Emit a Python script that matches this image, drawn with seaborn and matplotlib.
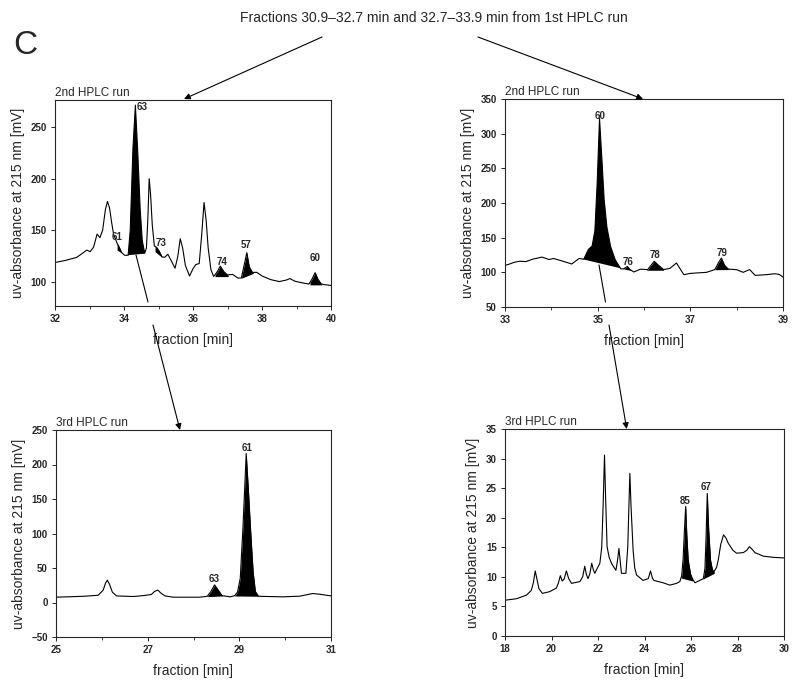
import numpy as np
import pandas as pd
import matplotlib
matplotlib.use("Agg")
import matplotlib.pyplot as plt
import seaborn as sns

# ---------------- data ----------------
# 2nd HPLC run, fraction 30.9-32.7 min
p1_x = [32.0, 32.3, 32.63, 32.8, 32.92, 33.02, 33.12, 33.22, 33.3, 33.38, 33.46, 33.52, 33.58,
        33.64, 33.7, 33.76, 33.8, 33.86, 33.93, 34.02, 34.12, 34.18, 34.26, 34.33, 34.4, 34.47,
        34.53, 34.6, 34.65, 34.69, 34.73, 34.77, 34.82, 34.88, 34.95, 35.02, 35.1, 35.18, 35.27,
        35.35, 35.48, 35.56, 35.63, 35.7, 35.78, 35.9, 36.0, 36.08, 36.18, 36.25, 36.32, 36.38,
        36.44, 36.52, 36.6, 36.7, 36.79, 36.9, 37.0, 37.15, 37.3, 37.4, 37.48, 37.56, 37.63,
        37.72, 37.85, 38.0, 38.25, 38.5, 38.7, 38.81, 38.95, 39.15, 39.36, 39.45, 39.54, 39.62,
        39.72, 39.85, 40.0]
p1_y = [119, 121, 124, 128, 131, 129.5, 134, 146.5, 143, 150, 170, 178, 172,
        158, 146, 141, 137.6, 134, 128.6, 126, 126, 150, 230, 271, 225, 170,
        140, 128, 133, 160, 200, 185, 155, 135, 133.5, 130, 124.5, 124, 127,
        122, 113.5, 125, 142, 133, 116, 106, 113, 117, 118, 145, 177, 160,
        133, 112, 105.5, 110, 115.5, 110, 107, 107.5, 104, 104, 116, 128.5, 115,
        109.5, 109.5, 106, 102.5, 100.6, 102, 103.5, 101, 99.5, 98.2, 103, 109.2, 103,
        98.2, 97.5, 96.8]
p1_peaks = ["61", "63", "73", "74", "57", "60"]
p1_fill = [(33.80, 131.0, 33.92, 128.5), (34.08, 126.0, 34.60, 127.5), (34.90, 129.5, 35.10, 124.0),
           (36.64, 105.4, 37.02, 105.4), (37.41, 103.9, 37.75, 108.6), (39.39, 97.4, 39.73, 97.4)]
p1_lab = [(33.80, 143.5), (34.37, 269.0), (35.07, 137.9), (36.84, 119.6), (37.54, 136.0), (39.54, 123.0)]

# 2nd HPLC run, fraction 32.7-33.9 min
p2_x = [33.0, 33.1, 33.2, 33.32, 33.45, 33.6, 33.8, 33.95, 34.05, 34.15, 34.3, 34.44, 34.6, 34.7,
        34.8, 34.88, 34.94, 34.99, 35.04, 35.09, 35.14, 35.2, 35.28, 35.38, 35.5, 35.56, 35.64,
        35.7, 35.78, 35.92, 36.08, 36.15, 36.22, 36.3, 36.42, 36.56, 36.7, 36.78, 36.86, 37.0,
        37.35, 37.53, 37.6, 37.67, 37.74, 37.82, 38.0, 38.14, 38.28, 38.4, 38.64, 38.82, 38.92, 39.0]
p2_y = [110, 112, 114.5, 116, 115.5, 119, 122, 118.5, 120, 118, 115, 112, 120, 119,
        133, 138, 160, 230, 322, 265, 205, 165, 137, 118, 105, 105, 108.5,
        104, 100.5, 104.5, 104, 110, 116, 111, 104, 105.7, 113.5, 105, 96.6, 98.5,
        100, 104, 113, 120.6, 110, 104.7, 103.8, 100, 104, 95.6, 96.6, 98, 97, 93.2]
p2_peaks = ["60", "76", "78", "79"]
p2_fill = [(34.67, 119.0, 35.57, 104.6), (35.57, 104.6, 35.74, 102.5),
           (36.06, 103.0, 36.42, 103.0), (37.53, 103.8, 37.84, 104.0)]
p2_lab = [(35.05, 326.0), (35.66, 115.3), (36.24, 125.0), (37.68, 128.3)]

# 3rd HPLC run (from peak 63)
p3_x = [25.0, 25.6, 25.92, 26.03, 26.08, 26.12, 26.17, 26.23, 26.32, 26.69, 26.91, 27.08, 27.15,
        27.22, 27.3, 27.38, 27.56, 28.14, 28.3, 28.38, 28.46, 28.54, 28.62, 28.8, 28.9, 28.96,
        29.02, 29.08, 29.15, 29.2, 29.25, 29.3, 29.35, 29.42, 29.96, 30.32, 30.6, 30.75, 31.0]
p3_y = [7.7, 9.0, 10.5, 18, 28, 32.3, 26, 15, 9.5, 8.7, 10, 11.6, 16,
        18, 13, 9.5, 7.7, 7.7, 9, 16, 25.5, 18, 10, 8.2, 10, 15,
        35, 110, 216, 160, 100, 45, 16, 9, 8.2, 9.2, 13, 12, 9.6]
p3_peaks = ["63", "61"]
p3_fill = [(28.31, 8.5, 28.64, 9.5), (28.88, 9.5, 29.42, 9.0)]
p3_lab = [(28.45, 33.6), (29.16, 223.5)]

# 3rd HPLC run (from peak 60)
p4_x = [18.0, 18.49, 18.92, 19.13, 19.22, 19.3, 19.38, 19.46, 19.61, 19.92, 20.21, 20.3, 20.38,
        20.46, 20.54, 20.64, 20.74, 20.86, 21.22, 21.34, 21.43, 21.5, 21.57, 21.65, 21.73, 21.8,
        21.86, 22.08, 22.16, 22.22, 22.28, 22.33, 22.39, 22.48, 22.58, 22.77, 22.84, 22.9, 22.96,
        23.01, 23.2, 23.28, 23.33, 23.37, 23.42, 23.51, 23.58, 23.66, 23.94, 24.16, 24.26, 24.34,
        24.4, 24.8, 25.09, 25.38, 25.52, 25.6, 25.66, 25.72, 25.77, 25.82, 25.88, 25.98, 26.07,
        26.17, 26.38, 26.53, 26.6, 26.65, 26.7, 26.76, 26.84, 26.92, 26.99, 27.1, 27.17, 27.28,
        27.4, 27.5, 27.6, 27.8, 27.96, 28.25, 28.4, 28.51, 28.62, 28.75, 29.11, 29.54, 30.0]
p4_y = [6.05, 6.3, 6.9, 7.7, 9, 11, 9.5, 8, 7.2, 7.5, 8.1, 9, 10.2,
        9.3, 9.6, 11, 9.7, 8.9, 9.2, 10, 11.8, 10.4, 9.7, 10.5, 12.3, 11.2,
        10.6, 12.3, 15, 22, 30.6, 23, 15.1, 13.3, 12.3, 11.1, 12.8, 14.8, 12.5,
        10.6, 10.6, 15, 22, 27.5, 22, 14.5, 11.5, 10.3, 9.4, 9.7, 11, 9.8,
        9.4, 9.0, 8.6, 8.9, 9.2, 10.2, 13, 18, 21.9, 17, 12.8, 10.5, 9.6,
        9.0, 9.4, 9.7, 11.4, 17, 24.1, 18, 12.8, 11.2, 10.9, 11.6, 12.8, 15.5,
        17.1, 16.6, 15.7, 14.5, 14, 14.1, 14.5, 15.1, 14.7, 14.1, 13.5, 13.3, 13.2]
p4_peaks = ["85", "67"]
p4_fill = [(25.58, 9.8, 26.07, 9.3), (26.50, 9.6, 27.00, 10.6)]
p4_lab = [(25.74, 22.9), (26.65, 25.2)]

title_text = "Fractions 30.9\u201332.7 min and 32.7\u201333.9 min from 1st HPLC run"
run_labels = ["2nd HPLC run", "2nd HPLC run", "3rd HPLC run", "3rd HPLC run"]

# ---------------- style ----------------
sns.set_style("ticks")
FAM = ["Liberation Sans Narrow", "Liberation Sans", "DejaVu Sans"]
plt.rcParams["font.family"] = FAM
plt.rcParams["axes.linewidth"] = 0.8

W, H = 795, 686
fig = plt.figure(figsize=(W / 100, H / 100), dpi=100)


def rect(l, t, r, b):
    return [l / W, 1 - b / H, (r - l) / W, (b - t) / H]


def fpt(x, y):
    return (x / W, 1 - y / H)


panels = [
    dict(x=p1_x, y=p1_y, peaks=p1_peaks, fill=p1_fill, lab=p1_lab, rect=rect(55, 100, 331, 306),
         xlim=(32, 40), ylim=(77, 276), xt=[32, 34, 36, 38, 40], yt=[100, 150, 200, 250], xm=1),
    dict(x=p2_x, y=p2_y, peaks=p2_peaks, fill=p2_fill, lab=p2_lab, rect=rect(505, 99, 783, 307),
         xlim=(33, 39), ylim=(50, 350), xt=[33, 35, 37, 39], yt=[50, 100, 150, 200, 250, 300, 350], xm=1),
    dict(x=p3_x, y=p3_y, peaks=p3_peaks, fill=p3_fill, lab=p3_lab, rect=rect(56, 430, 331, 637),
         xlim=(25, 31), ylim=(-50, 250), xt=[25, 27, 29, 31], yt=[-50, 0, 50, 100, 150, 200, 250], xm=1),
    dict(x=p4_x, y=p4_y, peaks=p4_peaks, fill=p4_fill, lab=p4_lab, rect=rect(505, 429, 784, 636),
         xlim=(18, 30), ylim=(0, 35), xt=[18, 20, 22, 24, 26, 28, 30], yt=[0, 5, 10, 15, 20, 25, 30, 35], xm=None),
]

for i, p in enumerate(panels):
    ax = fig.add_axes(p["rect"])
    df = pd.DataFrame({"fraction": p["x"], "uv": p["y"]})
    sns.lineplot(data=df, x="fraction", y="uv", ax=ax, color="black", lw=0.8, estimator=None, sort=False)
    for (x0, y0, x1, y1) in p["fill"]:
        xs = np.linspace(x0, x1, 300)
        yt = np.interp(xs, p["x"], p["y"])
        yb = np.interp(xs, [x0, x1], [y0, y1])
        ax.fill_between(xs, yb, yt, where=yt >= yb, color="black", lw=0, interpolate=True)
    for name, (lx, ly) in zip(p["peaks"], p["lab"]):
        ha = "left" if (i == 0 and name == "63") else "center"
        ax.text(lx, ly, name, ha=ha, va="center", fontsize=7, fontweight="bold", family=FAM)
    ax.set_xlim(*p["xlim"])
    ax.set_ylim(*p["ylim"])
    ax.set_xticks(p["xt"])
    ax.set_yticks(p["yt"])
    if p["xm"]:
        ax.set_xticks(np.arange(p["xlim"][0], p["xlim"][1] + 0.1, p["xm"]), minor=True)
    ax.tick_params(labelsize=7, length=3, width=0.7, pad=3)
    ax.tick_params(which="minor", length=2, width=0.6)
    for lab in ax.get_xticklabels() + ax.get_yticklabels():
        lab.set_fontweight("bold")
    ax.set_xlabel("fraction [min]", fontsize=10, labelpad=6)
    ax.set_ylabel("uv-absorbance at 215 nm [mV]", fontsize=10, labelpad=4)
    for s in ax.spines.values():
        s.set_visible(True)
        s.set_linewidth(0.8)
    ax.text(0.0, 1.005, run_labels[i], transform=ax.transAxes, ha="left", va="bottom", fontsize=8.5)

# title and panel letter
fig.text(*fpt(434, 18), title_text, ha="center", va="center", fontsize=10)
fig.text(*fpt(13, 45), "C", ha="left", va="center", fontsize=24)

# connector arrows (figure coordinates)
aprops = dict(arrowstyle="-|>", lw=0.8, color="black", mutation_scale=9, shrinkA=0, shrinkB=0)
fig.add_artist(matplotlib.patches.FancyArrowPatch(fpt(322, 37), fpt(184, 99), transform=fig.transFigure, **aprops))
fig.add_artist(matplotlib.patches.FancyArrowPatch(fpt(478, 37), fpt(643, 99), transform=fig.transFigure, **aprops))
lprops = dict(arrowstyle="-", lw=0.8, color="black", shrinkA=0, shrinkB=0)
fig.add_artist(matplotlib.patches.FancyArrowPatch(fpt(136, 255), fpt(148, 302), transform=fig.transFigure, **lprops))
fig.add_artist(matplotlib.patches.FancyArrowPatch(fpt(153, 325), fpt(180, 430), transform=fig.transFigure, **aprops))
fig.add_artist(matplotlib.patches.FancyArrowPatch(fpt(599, 265), fpt(605.5, 302), transform=fig.transFigure, **lprops))
fig.add_artist(matplotlib.patches.FancyArrowPatch(fpt(609, 325), fpt(626.7, 429), transform=fig.transFigure, **aprops))

fig.savefig("out.png", dpi=100)
